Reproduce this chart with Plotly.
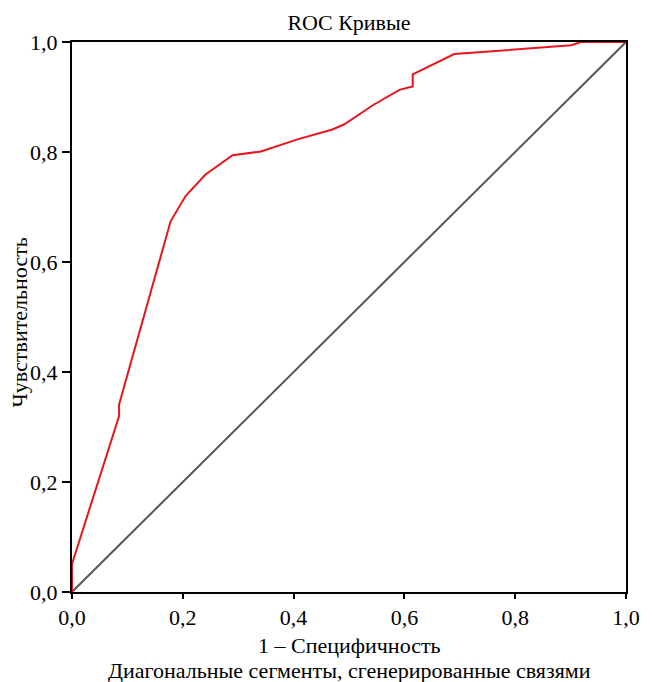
import plotly.graph_objects as go

# ROC curve points
fpr = [0.0, 0.0, 0.085, 0.085, 0.178, 0.205, 0.241, 0.269, 0.290, 0.341,
       0.407, 0.470, 0.491, 0.543, 0.591, 0.615, 0.615, 0.690, 0.840,
       0.901, 0.919, 1.0]
tpr = [0.0, 0.051, 0.32, 0.341, 0.674, 0.72, 0.759, 0.779, 0.794, 0.801,
       0.823, 0.841, 0.850, 0.885, 0.913, 0.919, 0.941, 0.978, 0.990,
       0.994, 1.0, 1.0]
diag = [0.0, 1.0]
tick_vals = [0.0, 0.2, 0.4, 0.6, 0.8, 1.0]

font = "Liberation Serif, Times New Roman, serif"

fig = go.Figure()
fig.add_trace(go.Scatter(x=diag, y=diag, mode="lines",
                         line=dict(color="#555555", width=2),
                         showlegend=False, hoverinfo="skip"))
fig.add_trace(go.Scatter(x=fpr, y=tpr, mode="lines",
                         line=dict(color="#e8161c", width=2),
                         showlegend=False))

# page has an 8px body margin, figure starts at (8, 8)
fig.update_layout(
    width=644, height=674,
    margin=dict(l=64, r=26, t=34, b=90),
    plot_bgcolor="white", paper_bgcolor="white",
    separators=", ",
    font=dict(family=font, size=22, color="black"),
    title=dict(text="ROC Кривые", x=(349 - 8) / 644, xanchor="center",
               y=1 - 14 / 674, yanchor="middle",
               font=dict(family=font, size=22)),
    annotations=[
        dict(text="1 – Специфичность", xref="paper", yref="paper",
             x=0.5, y=-0.097, xanchor="center", yanchor="middle",
             showarrow=False, font=dict(family=font, size=22)),
        dict(text="Диагональные сегменты, сгенерированные связями",
             xref="paper", yref="paper", x=0.5, y=-0.142,
             xanchor="center", yanchor="middle", showarrow=False,
             font=dict(family=font, size=22)),
        dict(text="Чувствительность", xref="paper", yref="paper",
             x=-0.094, y=0.49, xanchor="center", yanchor="middle",
             textangle=-90, showarrow=False,
             font=dict(family=font, size=22)),
    ],
)
fig.update_xaxes(range=[0, 1], tickvals=tick_vals, tickformat=".1f",
                 automargin=False,
                 showgrid=False, zeroline=False, showline=True,
                 linecolor="black", linewidth=2, mirror=True,
                 ticks="outside", ticklen=5, tickwidth=2, tickcolor="black")
fig.update_yaxes(range=[0, 1], tickvals=tick_vals, tickformat=".1f",
                 automargin=False,
                 showgrid=False, zeroline=False, showline=True,
                 linecolor="black", linewidth=2, mirror=True,
                 ticks="outside", ticklen=8, tickwidth=2, tickcolor="black")

fig.write_html("out.html")
